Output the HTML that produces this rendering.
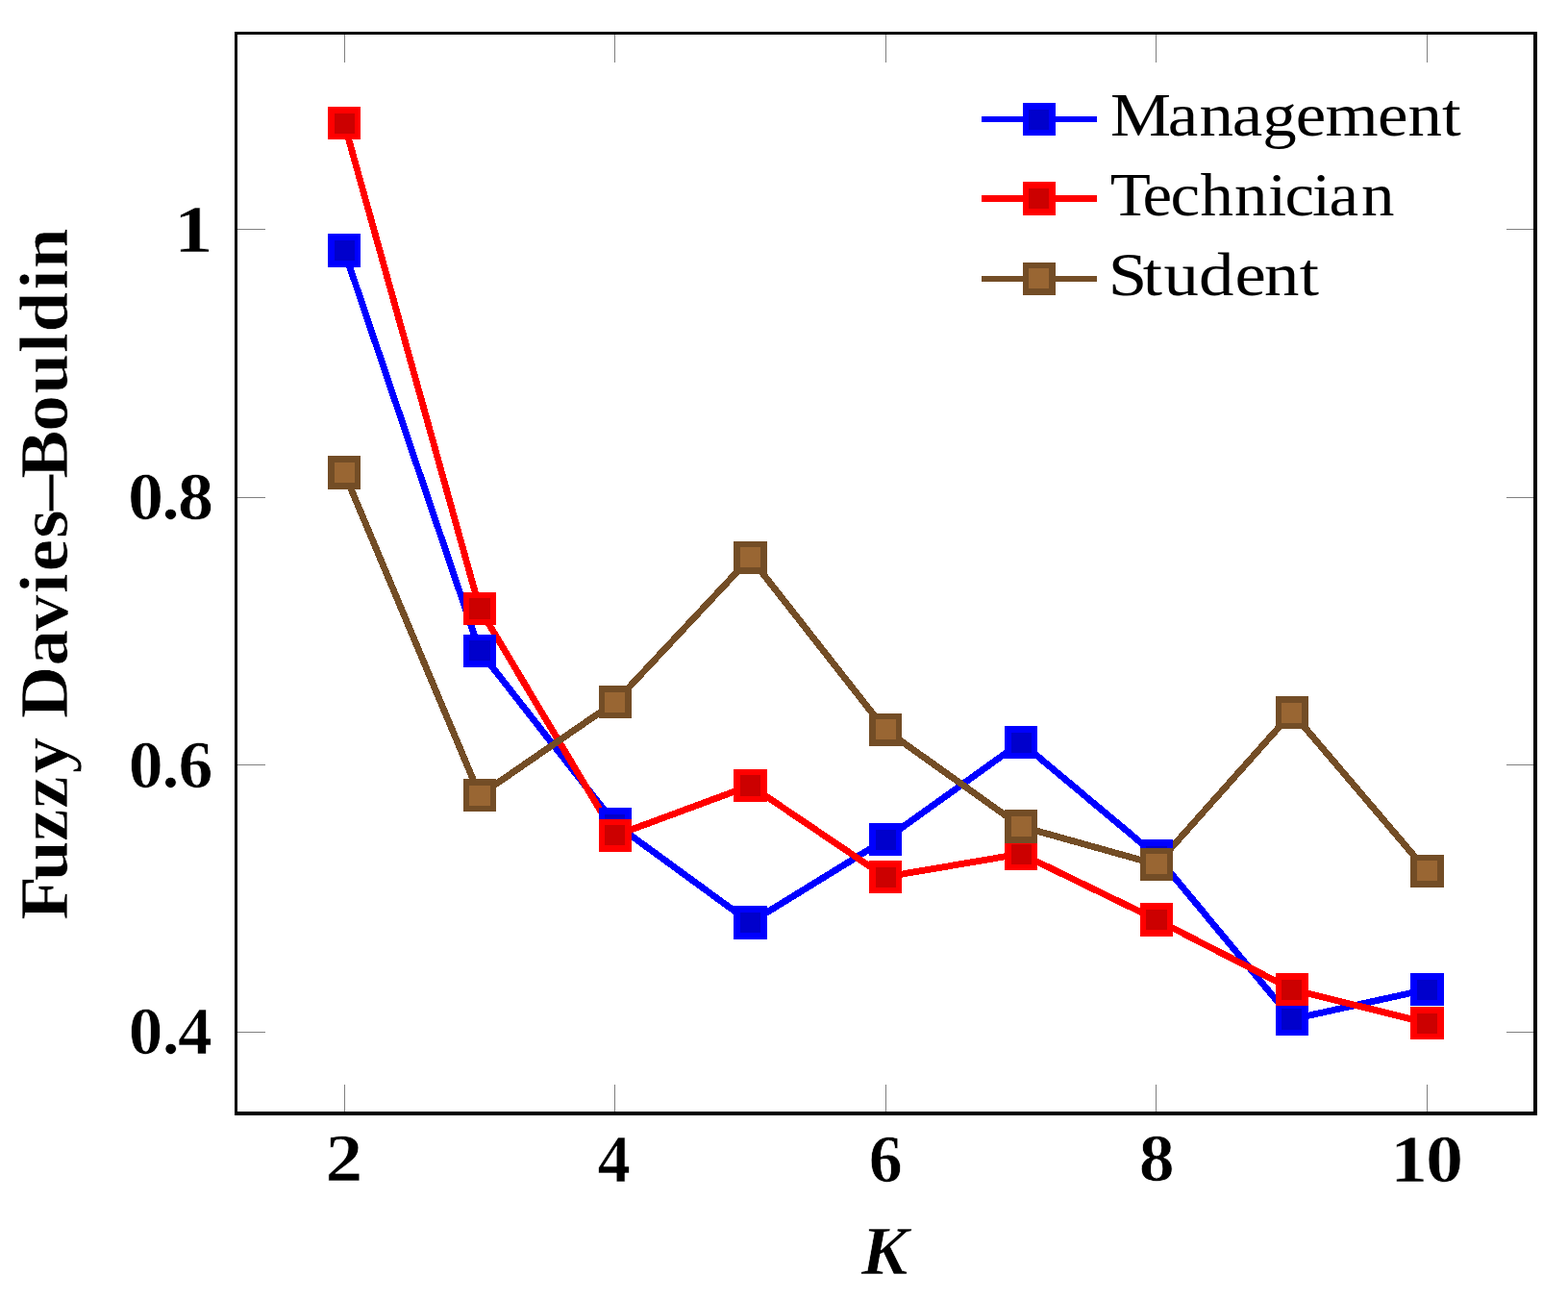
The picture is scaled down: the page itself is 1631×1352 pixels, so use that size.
<!DOCTYPE html>
<html lang="en">
<head>
<meta charset="utf-8">
<title>Fuzzy Davies–Bouldin</title>
<style>
html,body{margin:0;padding:0;background:#fff;}
body{width:1631px;height:1352px;overflow:hidden;}
svg{display:block;}
text{font-family:"Liberation Serif",serif;fill:#000;white-space:pre;}
.r{font-weight:400;font-style:normal;}
.b{font-weight:700;font-style:normal;}
.bi{font-weight:700;font-style:italic;}
</style>
</head>
<body>
<svg width="1631" height="1352" viewBox="0 0 1631 1352">
<rect x="0" y="0" width="1631" height="1352" fill="#fff"/>
<g fill="#808080" shape-rendering="crispEdges">
<rect x="358" y="1128" width="1" height="29"/>
<rect x="358" y="35" width="1" height="30"/>
<rect x="639" y="1128" width="1" height="29"/>
<rect x="639" y="35" width="1" height="30"/>
<rect x="921" y="1128" width="1" height="29"/>
<rect x="921" y="35" width="1" height="30"/>
<rect x="1202" y="1128" width="1" height="29"/>
<rect x="1202" y="35" width="1" height="30"/>
<rect x="1484" y="1128" width="1" height="29"/>
<rect x="1484" y="35" width="1" height="30"/>
<rect x="246" y="238" width="30" height="1"/>
<rect x="1567" y="238" width="29" height="1"/>
<rect x="246" y="517" width="30" height="1"/>
<rect x="1567" y="517" width="29" height="1"/>
<rect x="246" y="795" width="30" height="1"/>
<rect x="1567" y="795" width="29" height="1"/>
<rect x="246" y="1073" width="30" height="1"/>
<rect x="1567" y="1073" width="29" height="1"/>
</g>
<g fill="#000" shape-rendering="crispEdges">
<rect x="244" y="33" width="3" height="1127"/>
<rect x="244" y="33" width="1355" height="3"/>
<rect x="1595" y="33" width="4" height="1127"/>
<rect x="244" y="1156" width="1355" height="4"/>
</g>
<g shape-rendering="crispEdges" fill="none" stroke-linejoin="miter">
<polyline points="358.0,260.5 499.0,677.0 640.0,857.0 780.5,959.5 921.0,873.0 1062.0,772.0 1203.0,890.0 1344.0,1060.0 1484.5,1029.0" stroke="#0000ff" stroke-width="6.9"/>
<polyline points="358.0,128.0 499.0,633.0 640.0,869.0 780.5,817.0 921.0,912.0 1062.0,888.0 1203.0,956.5 1344.0,1029.0 1484.5,1064.0" stroke="#ff0000" stroke-width="6.9"/>
<polyline points="358.0,491.5 499.0,827.0 640.0,730.0 780.5,580.0 921.0,759.0 1062.0,859.5 1203.0,899.0 1344.0,741.0 1484.5,906.0" stroke="#734d26" stroke-width="6.9"/>
</g>
<g shape-rendering="crispEdges">
<rect x="341" y="243" width="34" height="35" fill="#0000ff"/><rect x="348" y="250" width="21" height="21" fill="#0000cc"/>
<rect x="482" y="660" width="34" height="34" fill="#0000ff"/><rect x="488" y="666" width="22" height="21" fill="#0000cc"/>
<rect x="623" y="840" width="34" height="34" fill="#0000ff"/><rect x="629" y="847" width="21" height="21" fill="#0000cc"/>
<rect x="763" y="942" width="35" height="35" fill="#0000ff"/><rect x="770" y="949" width="21" height="21" fill="#0000cc"/>
<rect x="904" y="856" width="34" height="34" fill="#0000ff"/><rect x="911" y="863" width="21" height="21" fill="#0000cc"/>
<rect x="1045" y="755" width="34" height="34" fill="#0000ff"/><rect x="1052" y="762" width="21" height="21" fill="#0000cc"/>
<rect x="1186" y="873" width="34" height="34" fill="#0000ff"/><rect x="1192" y="880" width="22" height="21" fill="#0000cc"/>
<rect x="1327" y="1043" width="34" height="34" fill="#0000ff"/><rect x="1333" y="1049" width="21" height="22" fill="#0000cc"/>
<rect x="1467" y="1012" width="35" height="34" fill="#0000ff"/><rect x="1474" y="1019" width="21" height="21" fill="#0000cc"/>
</g>
<g shape-rendering="crispEdges">
<rect x="341" y="111" width="34" height="34" fill="#ff0000"/><rect x="348" y="118" width="21" height="21" fill="#cc0000"/>
<rect x="482" y="616" width="34" height="34" fill="#ff0000"/><rect x="488" y="622" width="22" height="22" fill="#cc0000"/>
<rect x="623" y="852" width="34" height="34" fill="#ff0000"/><rect x="629" y="858" width="21" height="21" fill="#cc0000"/>
<rect x="763" y="800" width="35" height="34" fill="#ff0000"/><rect x="770" y="806" width="21" height="22" fill="#cc0000"/>
<rect x="904" y="895" width="34" height="34" fill="#ff0000"/><rect x="911" y="902" width="21" height="21" fill="#cc0000"/>
<rect x="1045" y="871" width="34" height="34" fill="#ff0000"/><rect x="1052" y="878" width="21" height="21" fill="#cc0000"/>
<rect x="1186" y="939" width="34" height="35" fill="#ff0000"/><rect x="1192" y="946" width="22" height="21" fill="#cc0000"/>
<rect x="1327" y="1012" width="34" height="34" fill="#ff0000"/><rect x="1333" y="1019" width="21" height="21" fill="#cc0000"/>
<rect x="1467" y="1047" width="35" height="34" fill="#ff0000"/><rect x="1474" y="1054" width="21" height="21" fill="#cc0000"/>
</g>
<g shape-rendering="crispEdges">
<rect x="341" y="474" width="34" height="35" fill="#734d26"/><rect x="348" y="481" width="21" height="21" fill="#996633"/>
<rect x="482" y="810" width="34" height="34" fill="#734d26"/><rect x="488" y="817" width="22" height="21" fill="#996633"/>
<rect x="623" y="713" width="34" height="34" fill="#734d26"/><rect x="629" y="720" width="21" height="21" fill="#996633"/>
<rect x="763" y="563" width="35" height="34" fill="#734d26"/><rect x="770" y="569" width="21" height="21" fill="#996633"/>
<rect x="904" y="742" width="34" height="34" fill="#734d26"/><rect x="911" y="748" width="21" height="21" fill="#996633"/>
<rect x="1045" y="842" width="34" height="35" fill="#734d26"/><rect x="1052" y="849" width="21" height="21" fill="#996633"/>
<rect x="1186" y="882" width="34" height="34" fill="#734d26"/><rect x="1192" y="888" width="22" height="21" fill="#996633"/>
<rect x="1327" y="724" width="34" height="34" fill="#734d26"/><rect x="1333" y="731" width="21" height="21" fill="#996633"/>
<rect x="1467" y="889" width="35" height="34" fill="#734d26"/><rect x="1474" y="895" width="21" height="21" fill="#996633"/>
</g>
<g shape-rendering="crispEdges">
<rect x="1021" y="121" width="120" height="6" fill="#0000ff"/>
<rect x="1064" y="107" width="34" height="34" fill="#0000ff"/><rect x="1070" y="114" width="21" height="21" fill="#0000cc"/>
</g>
<g shape-rendering="crispEdges">
<rect x="1021" y="203" width="120" height="7" fill="#ff0000"/>
<rect x="1064" y="189" width="34" height="35" fill="#ff0000"/><rect x="1070" y="196" width="21" height="21" fill="#cc0000"/>
</g>
<g shape-rendering="crispEdges">
<rect x="1021" y="287" width="120" height="6" fill="#734d26"/>
<rect x="1064" y="273" width="34" height="34" fill="#734d26"/><rect x="1070" y="279" width="21" height="21" fill="#996633"/>
</g>
<text class="r" font-size="64.00" x="1041.98 1095.94 1125.48 1156.34 1184.83 1216.03 1243.79 1292.89 1321.25 1353.34" y="0.00" transform="translate(0 141) scale(1.1084 1)">Management</text>
<text class="r" font-size="64.00" x="1072.00 1103.24 1130.07 1158.88 1191.98 1224.29 1240.53 1266.95 1283.29 1314.42" y="0.00" transform="translate(0 224) scale(1.0773 1)">Technician</text>
<text class="r" font-size="64.00" x="1012.58 1044.08 1063.18 1095.27 1128.26 1155.03 1187.30" y="0.00" transform="translate(0 307) scale(1.1385 1)">Student</text>
<text class="b" font-size="70.57" x="157.33" y="0.35" transform="translate(0 261.8) scale(1.1508 1)" stroke="#fff" stroke-width="0.7" stroke-linejoin="round" vector-effect="non-scaling-stroke">1</text>
<text class="b" font-size="70.57" x="126.59 160.15 175.92" y="0.35" transform="translate(0 539.6) scale(1.0511 1)" stroke="#fff" stroke-width="0.7" stroke-linejoin="round" vector-effect="non-scaling-stroke">0.8</text>
<text class="b" font-size="70.57" x="131.31 165.68 182.23" y="0.35" transform="translate(0 818.3) scale(1.0178 1)" stroke="#fff" stroke-width="0.7" stroke-linejoin="round" vector-effect="non-scaling-stroke">0.6</text>
<text class="b" font-size="70.57" x="132.34 166.89 183.02" y="0.35" transform="translate(0 1095.9) scale(1.0108 1)" stroke="#fff" stroke-width="0.7" stroke-linejoin="round" vector-effect="non-scaling-stroke">0.4</text>
<text class="b" font-size="70.57" x="307.80" y="0.35" transform="translate(0 1227.5) scale(1.0994 1)" stroke="#fff" stroke-width="0.7" stroke-linejoin="round" vector-effect="non-scaling-stroke">2</text>
<text class="b" font-size="70.57" x="637.17" y="0.35" transform="translate(0 1228.8) scale(0.9754 1)" stroke="#fff" stroke-width="0.7" stroke-linejoin="round" vector-effect="non-scaling-stroke">4</text>
<text class="b" font-size="70.57" x="912.70" y="0.35" transform="translate(0 1228.5) scale(0.9903 1)" stroke="#fff" stroke-width="0.7" stroke-linejoin="round" vector-effect="non-scaling-stroke">6</text>
<text class="b" font-size="70.57" x="1132.30" y="0.35" transform="translate(0 1227.9) scale(1.0464 1)" stroke="#fff" stroke-width="0.7" stroke-linejoin="round" vector-effect="non-scaling-stroke">8</text>
<text class="b" font-size="70.57" x="1304.68 1338.11" y="0.35" transform="translate(0 1228.7) scale(1.1083 1)" stroke="#fff" stroke-width="0.7" stroke-linejoin="round" vector-effect="non-scaling-stroke">10</text>
<text class="bi" font-size="72.87" x="900.08" y="0.35" transform="translate(0 1325) scale(0.9956 1)" stroke="#fff" stroke-width="0.7" stroke-linejoin="round" vector-effect="non-scaling-stroke">K</text>
<text class="b" font-size="71.07" x="-3.70 34.65 73.51 105.74 140.02 175.55 193.92 245.46 279.57 316.41 337.76 370.65 397.35 429.04 475.05 511.91 552.20 572.45 614.03 634.80" y="0.35" transform="translate(69.3 953) rotate(-90) scale(1.0613 1)" stroke="#fff" stroke-width="0.7" stroke-linejoin="round" vector-effect="non-scaling-stroke">Fuzzy Davies–Bouldin</text>
</svg>
</body>
</html>
